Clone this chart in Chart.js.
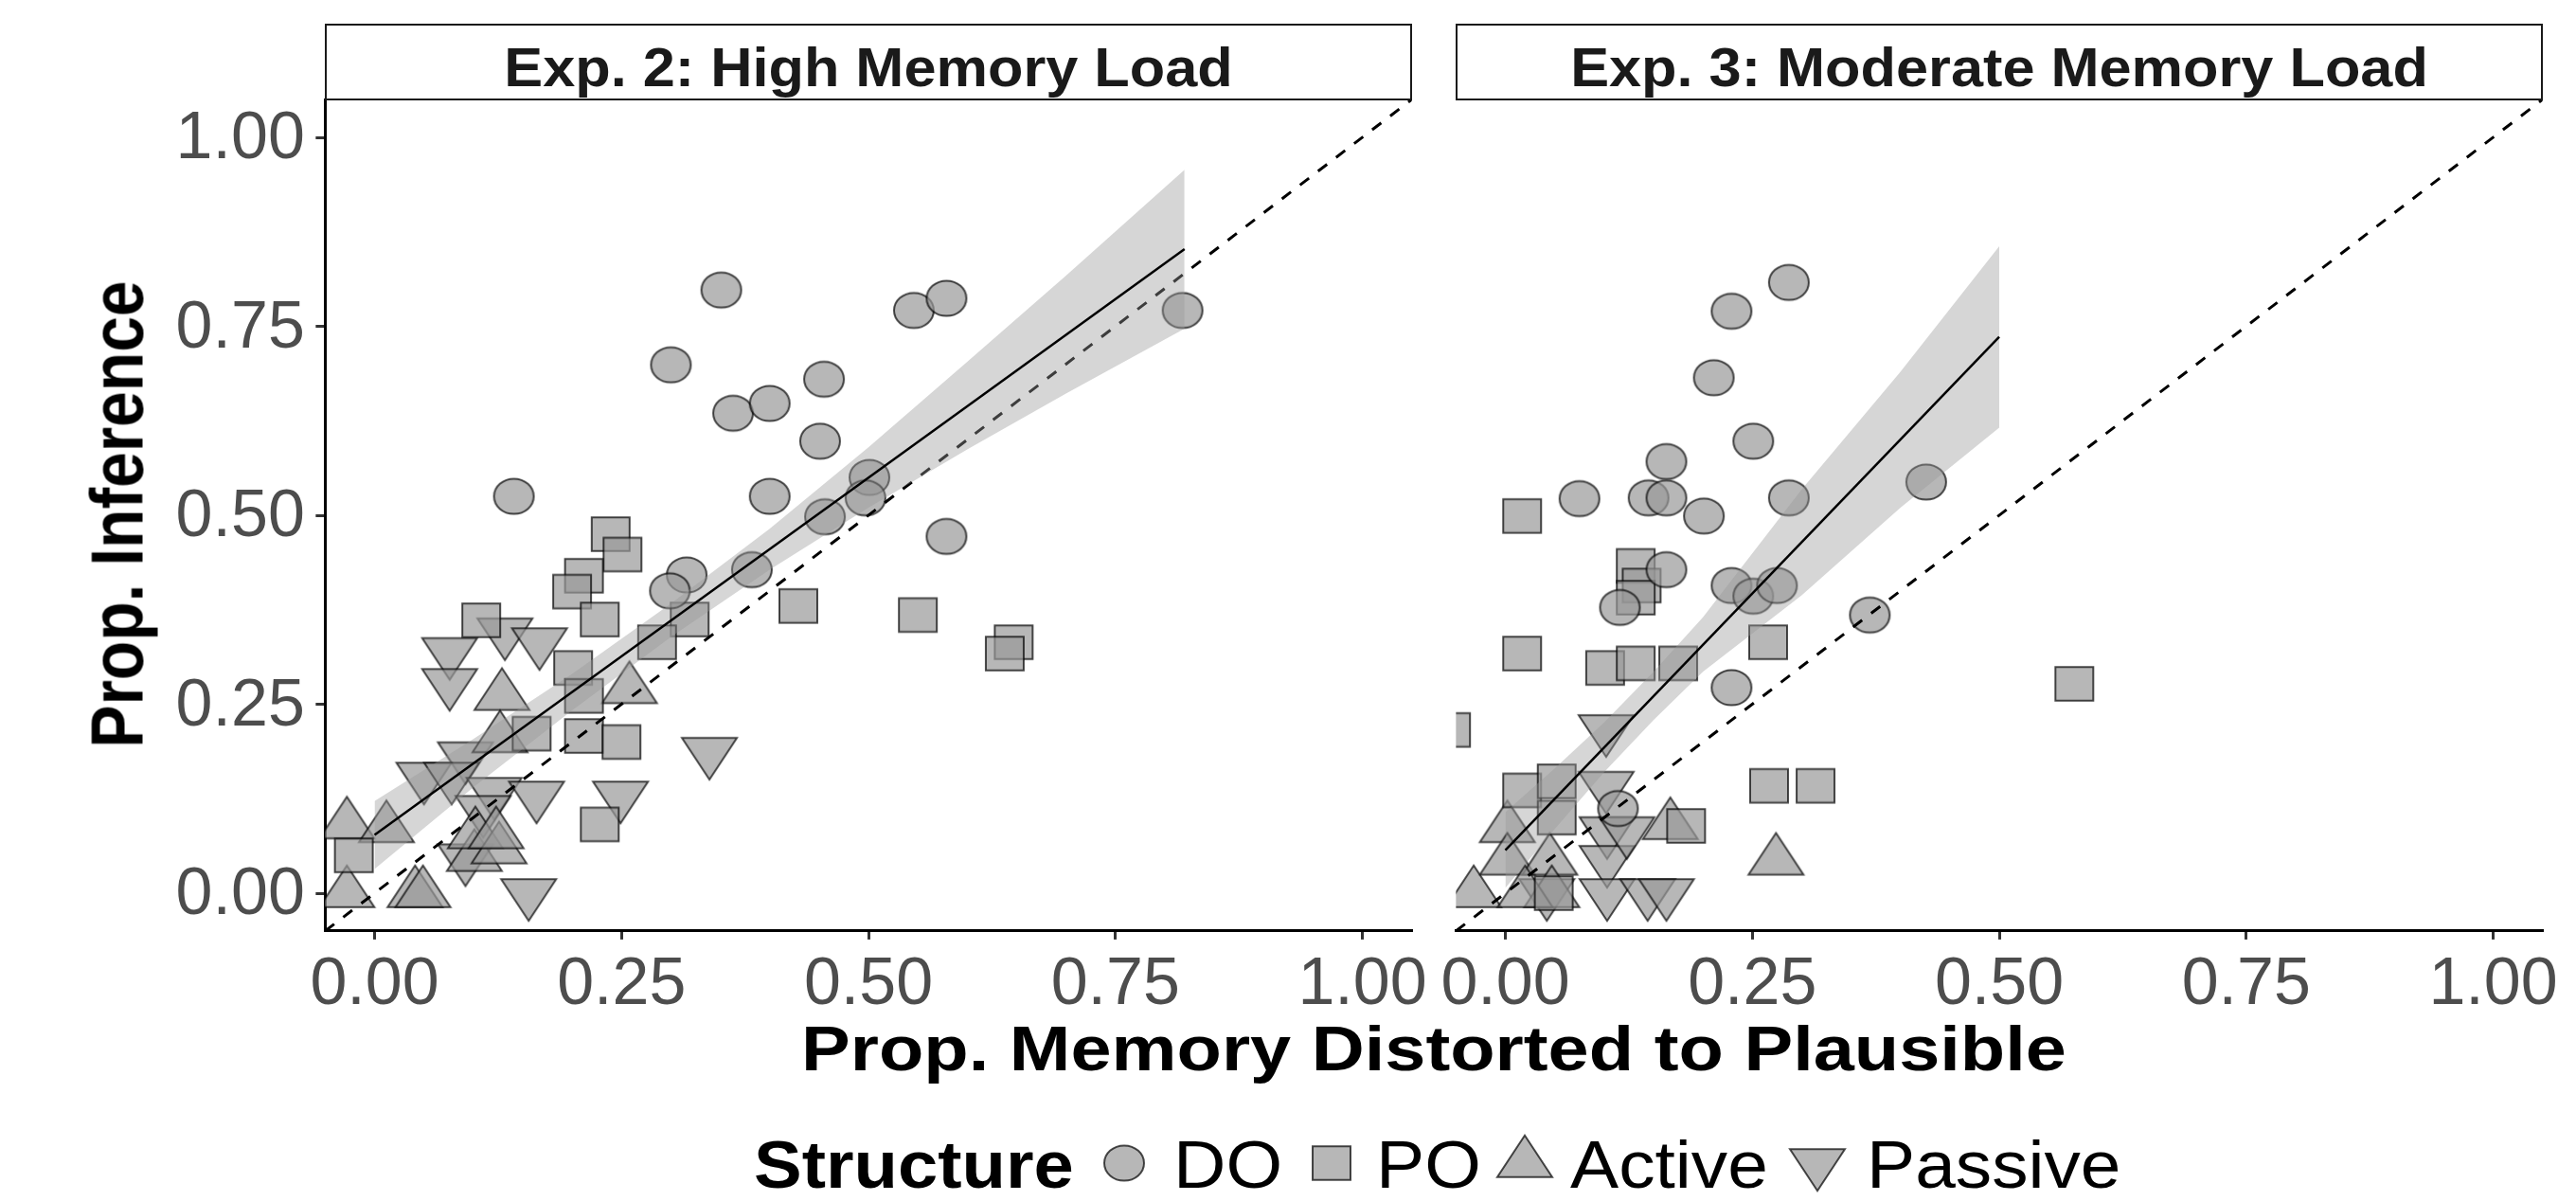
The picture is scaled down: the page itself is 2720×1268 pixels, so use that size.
<!DOCTYPE html>
<html><head><meta charset="utf-8">
<script src="https://cdn.jsdelivr.net/npm/chart.js@4/dist/chart.umd.min.js"></script>
<style>
html,body{margin:0;padding:0;background:#fff;}
body{width:2720px;height:1268px;position:relative;overflow:hidden;font-family:'Liberation Sans',Arial,sans-serif;}
.box{position:absolute;}
.txt{position:absolute;white-space:nowrap;line-height:1;}
.strip{position:absolute;box-sizing:border-box;border:2px solid #1a1a1a;background:#fff;}
</style></head><body>
<div class="box" style="left:0;top:0;width:1520px;height:1268px"><canvas id="cv1"></canvas></div>
<div class="box" style="left:1505px;top:0;width:1215px;height:1268px"><canvas id="cv2"></canvas></div>
<div class="strip" style="left:343.35px;top:25px;width:1147.3px;height:81px"></div>
<div class="strip" style="left:1537.35px;top:25px;width:1147.3px;height:81px"></div>
<canvas id="legendSym" width="820" height="100" style="position:absolute;left:1140px;top:1180px"></canvas>
<script>
// ---------- data ----------
const panelTitles = ['Exp. 2: High Memory Load', 'Exp. 3: Moderate Memory Load'];
const structures = ['DO', 'PO', 'Active', 'Passive'];
const xTickVals = [0, 0.25, 0.5, 0.75, 1];
const xTickLabels = ['0.00', '0.25', '0.50', '0.75', '1.00'];
const yTickVals = [0, 0.25, 0.5, 0.75, 1];
const yTickLabels = ['0.00', '0.25', '0.50', '0.75', '1.00'];
const xTitle = 'Prop. Memory Distorted to Plausible';
const yTitle = 'Prop. Inference';
const legendTitle = 'Structure';

// Exp. 2
const exp2_DO_x = [0.351, 0.546, 0.579, 0.300, 0.455, 0.363, 0.400, 0.451, 0.400, 0.501, 0.497, 0.456, 0.579, 0.382, 0.316, 0.299, 0.141, 0.818];
const exp2_DO_y = [0.798, 0.771, 0.787, 0.699, 0.680, 0.635, 0.648, 0.598, 0.525, 0.550, 0.523, 0.498, 0.472, 0.428, 0.421, 0.400, 0.525, 0.771];
const exp2_PO_x = [0.239, 0.251, 0.212, 0.200, 0.228, 0.108, 0.319, 0.286, 0.429, 0.550, 0.647, 0.638, 0.201, 0.212, 0.159, 0.212, 0.250, 0.228, -0.021];
const exp2_PO_y = [0.475, 0.448, 0.420, 0.399, 0.362, 0.361, 0.362, 0.332, 0.380, 0.368, 0.332, 0.317, 0.298, 0.261, 0.211, 0.208, 0.200, 0.091, 0.050];
const exp2_Active_x = [-0.028, 0.012, -0.028, 0.041, 0.049, 0.101, 0.102, 0.126, 0.123, 0.129, 0.127, 0.258];
const exp2_Active_y = [0.091, 0.086, 0.000, 0.000, 0.000, 0.048, 0.078, 0.058, 0.078, 0.261, 0.205, 0.270];
const exp2_Passive_x = [0.076, 0.076, 0.132, 0.167, 0.092, 0.050, 0.078, 0.121, 0.164, 0.249, 0.156, 0.339, 0.092, 0.110];
const exp2_Passive_y = [0.319, 0.278, 0.345, 0.332, 0.181, 0.154, 0.154, 0.134, 0.129, 0.129, 0.000, 0.187, 0.046, 0.110];
const exp2_fit_x = [0.0, 0.82];
const exp2_fit_y = [0.077, 0.852];
const exp2_band_x = [0, 0.1, 0.2, 0.3, 0.4, 0.5, 0.6, 0.7, 0.82];
const exp2_band_lo = [0.032, 0.140, 0.242, 0.339, 0.428, 0.510, 0.587, 0.661, 0.747];
const exp2_band_hi = [0.122, 0.204, 0.290, 0.383, 0.482, 0.590, 0.703, 0.817, 0.957];

// Exp. 3
const exp3_DO_x = [0.287, 0.229, 0.211, 0.251, 0.163, 0.075, 0.145, 0.163, 0.201, 0.287, 0.426, 0.163, 0.116, 0.229, 0.251, 0.275, 0.369, 0.229, 0.114];
const exp3_DO_y = [0.808, 0.770, 0.682, 0.598, 0.571, 0.522, 0.523, 0.523, 0.499, 0.523, 0.544, 0.428, 0.378, 0.407, 0.393, 0.407, 0.368, 0.272, 0.112];
const exp3_PO_x = [0.017, 0.132, 0.138, 0.132, 0.017, 0.101, 0.132, 0.175, 0.266, -0.055, 0.576, 0.267, 0.314, 0.017, 0.052, 0.052, 0.183, 0.049];
const exp3_PO_y = [0.499, 0.433, 0.407, 0.391, 0.317, 0.298, 0.304, 0.304, 0.332, 0.216, 0.277, 0.142, 0.142, 0.136, 0.148, 0.100, 0.089, 0.000];
const exp3_Active_x = [0.002, 0.167, 0.002, 0.045, -0.032, 0.047, 0.274, 0.020];
const exp3_Active_y = [0.086, 0.090, 0.043, 0.043, 0.000, 0.000, 0.043, 0.000];
const exp3_Passive_x = [0.102, 0.102, 0.103, 0.103, 0.103, 0.144, 0.163, 0.042, 0.123];
const exp3_Passive_y = [0.217, 0.142, 0.082, 0.044, 0.000, 0.000, 0.000, 0.000, 0.082];
const exp3_fit_x = [0.0, 0.5];
const exp3_fit_y = [0.057, 0.736];
const exp3_band_x = [0, 0.05, 0.1, 0.15, 0.2, 0.3, 0.4, 0.5];
const exp3_band_lo = [0.007, 0.085, 0.160, 0.229, 0.293, 0.394, 0.510, 0.616];
const exp3_band_hi = [0.107, 0.165, 0.226, 0.293, 0.365, 0.534, 0.690, 0.856];

const identity_x = [-0.05, 1.05];
const identity_y = [-0.05, 1.05];

// tables built from the named arrays above
const exp2 = {
  fitX: exp2_fit_x, fitY: exp2_fit_y, bandX: exp2_band_x, bandLo: exp2_band_lo, bandHi: exp2_band_hi,
  pts: [[exp2_DO_x, exp2_DO_y], [exp2_PO_x, exp2_PO_y], [exp2_Active_x, exp2_Active_y], [exp2_Passive_x, exp2_Passive_y]]
};
const exp3 = {
  fitX: exp3_fit_x, fitY: exp3_fit_y, bandX: exp3_band_x, bandLo: exp3_band_lo, bandHi: exp3_band_hi,
  pts: [[exp3_DO_x, exp3_DO_y], [exp3_PO_x, exp3_PO_y], [exp3_Active_x, exp3_Active_y], [exp3_Passive_x, exp3_Passive_y]]
};

// ---------- styles ----------
const FONT = "'Liberation Sans', Arial, sans-serif";
const FILL = 'rgba(153,153,153,0.7)';
const STROKE = 'rgba(0,0,0,0.7)';
const shapes = ['circle', 'square', 'up', 'down'];

function marker(shape) {
  const c = document.createElement('canvas');
  c.width = 66; c.height = 68;
  const g = c.getContext('2d');
  const cx = 33, cy = 34;
  g.beginPath();
  if (shape === 'circle') g.ellipse(cx, cy, 21, 18.6, 0, 0, Math.PI * 2);
  else if (shape === 'square') g.rect(cx - 20, cy - 17.75, 40, 35.5);
  else if (shape === 'up') { g.moveTo(cx, cy - 29.3); g.lineTo(cx + 29, cy + 14.7); g.lineTo(cx - 29, cy + 14.7); g.closePath(); }
  else { g.moveTo(cx, cy + 29.3); g.lineTo(cx + 29, cy - 14.7); g.lineTo(cx - 29, cy - 14.7); g.closePath(); }
  g.fillStyle = FILL; g.fill();
  g.lineWidth = 2; g.strokeStyle = STROKE; g.stroke();
  return c;
}
const markers = shapes.map(marker);

const pts = (xs, ys) => xs.map((x, i) => ({x: x, y: ys[i]}));

function buildDatasets(d) {
  const ds = [
    {label: 'fit', data: pts(d.fitX, d.fitY), borderColor: '#000', borderWidth: 2.5, pointRadius: 0, fill: false, order: 1, clip: 0},
    {label: 'lo', data: pts(d.bandX, d.bandLo), borderColor: 'rgba(0,0,0,0)', borderWidth: 0, pointRadius: 0, fill: false, order: 2, clip: 0},
    {label: 'hi', data: pts(d.bandX, d.bandHi), borderColor: 'rgba(0,0,0,0)', borderWidth: 0, pointRadius: 0, fill: '-1', backgroundColor: 'rgba(153,153,153,0.4)', order: 2, clip: 0},
    {label: 'identity', data: pts(identity_x, identity_y), borderColor: '#000', borderWidth: 3, borderDash: [12, 12], pointRadius: 0, fill: false, order: 3, clip: 0}
  ];
  structures.forEach((s, k) => {
    ds.push({label: s, data: pts(d.pts[k][0], d.pts[k][1]), showLine: false, pointStyle: markers[k], pointRadius: 25, order: 4, clip: 0});
  });
  return ds;
}

function xScale() {
  return {
    type: 'linear', min: -0.05, max: 1.05,
    afterBuildTicks: s => { s.ticks = xTickVals.map(v => ({value: v})); },
    afterFit: s => { s.height = 100; s.paddingLeft = 0; s.paddingRight = 0; },
    ticks: {font: {family: FONT, size: 70, lineHeight: 1}, color: '#4d4d4d', padding: 14, maxRotation: 0, autoSkip: false,
      callback: (v, i) => xTickLabels[i]},
    grid: {drawOnChartArea: false, drawTicks: true, tickLength: 9, color: '#333', lineWidth: 3},
    border: {display: true, color: '#000', width: 3}
  };
}

function makeChart(id, d, showY, pad) {
  return new Chart(document.getElementById(id), {
    type: 'line',
    data: {datasets: buildDatasets(d)},
    options: {
      responsive: true, maintainAspectRatio: false, animation: false, devicePixelRatio: 1, events: [],
      layout: {padding: pad},
      plugins: {legend: {display: false}, tooltip: {enabled: false}},
      scales: {
        x: xScale(),
        y: showY ? {
          type: 'linear', min: -0.05, max: 1.05,
          afterBuildTicks: s => { s.ticks = yTickVals.map(v => ({value: v})); },
          afterFit: s => { s.width = 343.35; s.paddingTop = 0; s.paddingBottom = 0; },
          ticks: {font: {family: FONT, size: 70, lineHeight: 1}, color: '#4d4d4d', padding: 11.5, labelOffset: 3, callback: (v, i) => yTickLabels[i]},
          grid: {drawOnChartArea: false, drawTicks: true, tickLength: 10, color: '#333', lineWidth: 3},
          border: {display: true, color: '#000', width: 3}
        } : {type: 'linear', min: -0.05, max: 1.05, display: false}
      }
    }
  });
}

makeChart('cv1', exp2, true, {left: 0, right: 29.35, top: 105.1, bottom: 185.1});
makeChart('cv2', exp3, false, {left: 32.35, right: 35.35, top: 105.1, bottom: 185.1});

// ---------- text ----------
function addText(str, o) {
  const d = document.createElement('div');
  d.className = 'txt';
  d.textContent = str;
  d.style.fontSize = o.size + 'px';
  d.style.fontWeight = o.bold ? 'bold' : 'normal';
  d.style.color = o.color || '#000';
  const sx = o.sx || 1;
  if (o.rotate) {
    d.style.left = o.cx + 'px'; d.style.top = o.cy + 'px';
    d.style.transform = 'translate(-50%,-50%) rotate(-90deg) scaleX(' + sx + ')';
  } else {
    d.style.top = (o.baseline - 0.8465 * o.size) + 'px';
    if (o.cx !== undefined) {
      d.style.left = o.cx + 'px';
      d.style.transform = 'translateX(-50%) scaleX(' + sx + ')';
    } else {
      d.style.left = o.left + 'px';
      d.style.transformOrigin = 'left center';
      d.style.transform = 'scaleX(' + sx + ')';
    }
  }
  document.body.appendChild(d);
}
addText(panelTitles[0], {cx: 917, baseline: 91, size: 57, bold: true, sx: 1.075, color: '#1a1a1a'});
addText(panelTitles[1], {cx: 2111, baseline: 91, size: 57, bold: true, sx: 1.075, color: '#1a1a1a'});
addText(xTitle, {cx: 1514, baseline: 1130, size: 66, bold: true, sx: 1.175});
addText(yTitle, {rotate: true, cx: 124, cy: 543, size: 77, bold: true, sx: 0.88});
addText(legendTitle, {left: 796, baseline: 1254, size: 71, bold: true, sx: 1.07});
const legendLeft = [1239, 1453, 1658, 1971];
const legendSymX = [1187, 1406, 1610, 1919];
structures.forEach((s, k) => addText(s, {left: legendLeft[k], baseline: 1254, size: 71, sx: 1.08}));
const lg = document.getElementById('legendSym').getContext('2d');
markers.forEach((m, k) => lg.drawImage(m, legendSymX[k] - 1140 - m.width / 2, 1228 - 1180 - m.height / 2));
</script>
</body></html>
